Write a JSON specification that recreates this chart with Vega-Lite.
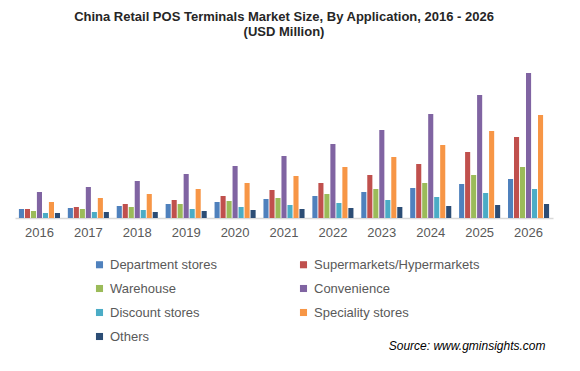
{
  "$schema": "https://vega.github.io/schema/vega-lite/v6.json",
  "width": 538,
  "height": 150,
  "autosize": {"type": "none"},
  "padding": {"left": 15, "top": 68, "right": 27, "bottom": 153},
  "background": "white",
  "config": {"font": "Liberation Sans", "view": {"stroke": null}},
  "title": {
    "text": ["China Retail POS Terminals Market Size, By Application, 2016 - 2026", "(USD Million)"],
    "fontSize": 13,
    "fontWeight": "bold",
    "color": "#262626",
    "anchor": "middle",
    "offset": 29,
    "lineHeight": 15
  },
  "data": {"values": [
    {"year": "2016", "cat": "Department stores", "v": 9},
    {"year": "2016", "cat": "Supermarkets/Hypermarkets", "v": 9},
    {"year": "2016", "cat": "Warehouse", "v": 7},
    {"year": "2016", "cat": "Convenience", "v": 26},
    {"year": "2016", "cat": "Discount stores", "v": 5},
    {"year": "2016", "cat": "Speciality stores", "v": 16},
    {"year": "2016", "cat": "Others", "v": 5},
    {"year": "2017", "cat": "Department stores", "v": 10},
    {"year": "2017", "cat": "Supermarkets/Hypermarkets", "v": 11},
    {"year": "2017", "cat": "Warehouse", "v": 9},
    {"year": "2017", "cat": "Convenience", "v": 31},
    {"year": "2017", "cat": "Discount stores", "v": 6},
    {"year": "2017", "cat": "Speciality stores", "v": 20},
    {"year": "2017", "cat": "Others", "v": 6},
    {"year": "2018", "cat": "Department stores", "v": 12},
    {"year": "2018", "cat": "Supermarkets/Hypermarkets", "v": 14},
    {"year": "2018", "cat": "Warehouse", "v": 11},
    {"year": "2018", "cat": "Convenience", "v": 37},
    {"year": "2018", "cat": "Discount stores", "v": 8},
    {"year": "2018", "cat": "Speciality stores", "v": 24},
    {"year": "2018", "cat": "Others", "v": 6},
    {"year": "2019", "cat": "Department stores", "v": 14},
    {"year": "2019", "cat": "Supermarkets/Hypermarkets", "v": 18},
    {"year": "2019", "cat": "Warehouse", "v": 14},
    {"year": "2019", "cat": "Convenience", "v": 44},
    {"year": "2019", "cat": "Discount stores", "v": 9},
    {"year": "2019", "cat": "Speciality stores", "v": 29},
    {"year": "2019", "cat": "Others", "v": 7},
    {"year": "2020", "cat": "Department stores", "v": 16},
    {"year": "2020", "cat": "Supermarkets/Hypermarkets", "v": 22},
    {"year": "2020", "cat": "Warehouse", "v": 17},
    {"year": "2020", "cat": "Convenience", "v": 52},
    {"year": "2020", "cat": "Discount stores", "v": 11},
    {"year": "2020", "cat": "Speciality stores", "v": 35},
    {"year": "2020", "cat": "Others", "v": 8},
    {"year": "2021", "cat": "Department stores", "v": 19},
    {"year": "2021", "cat": "Supermarkets/Hypermarkets", "v": 28},
    {"year": "2021", "cat": "Warehouse", "v": 20},
    {"year": "2021", "cat": "Convenience", "v": 62},
    {"year": "2021", "cat": "Discount stores", "v": 13},
    {"year": "2021", "cat": "Speciality stores", "v": 42},
    {"year": "2021", "cat": "Others", "v": 9},
    {"year": "2022", "cat": "Department stores", "v": 22},
    {"year": "2022", "cat": "Supermarkets/Hypermarkets", "v": 35},
    {"year": "2022", "cat": "Warehouse", "v": 24},
    {"year": "2022", "cat": "Convenience", "v": 74},
    {"year": "2022", "cat": "Discount stores", "v": 15},
    {"year": "2022", "cat": "Speciality stores", "v": 51},
    {"year": "2022", "cat": "Others", "v": 10},
    {"year": "2023", "cat": "Department stores", "v": 26},
    {"year": "2023", "cat": "Supermarkets/Hypermarkets", "v": 43},
    {"year": "2023", "cat": "Warehouse", "v": 29},
    {"year": "2023", "cat": "Convenience", "v": 88},
    {"year": "2023", "cat": "Discount stores", "v": 18},
    {"year": "2023", "cat": "Speciality stores", "v": 61},
    {"year": "2023", "cat": "Others", "v": 11},
    {"year": "2024", "cat": "Department stores", "v": 30},
    {"year": "2024", "cat": "Supermarkets/Hypermarkets", "v": 54},
    {"year": "2024", "cat": "Warehouse", "v": 35},
    {"year": "2024", "cat": "Convenience", "v": 104},
    {"year": "2024", "cat": "Discount stores", "v": 21},
    {"year": "2024", "cat": "Speciality stores", "v": 73},
    {"year": "2024", "cat": "Others", "v": 12},
    {"year": "2025", "cat": "Department stores", "v": 34},
    {"year": "2025", "cat": "Supermarkets/Hypermarkets", "v": 66},
    {"year": "2025", "cat": "Warehouse", "v": 43},
    {"year": "2025", "cat": "Convenience", "v": 123},
    {"year": "2025", "cat": "Discount stores", "v": 25},
    {"year": "2025", "cat": "Speciality stores", "v": 87},
    {"year": "2025", "cat": "Others", "v": 13},
    {"year": "2026", "cat": "Department stores", "v": 39},
    {"year": "2026", "cat": "Supermarkets/Hypermarkets", "v": 81},
    {"year": "2026", "cat": "Warehouse", "v": 51},
    {"year": "2026", "cat": "Convenience", "v": 145},
    {"year": "2026", "cat": "Discount stores", "v": 29},
    {"year": "2026", "cat": "Speciality stores", "v": 103},
    {"year": "2026", "cat": "Others", "v": 14}
  ]},
  "mark": {"type": "bar"},
  "encoding": {
    "x": {
      "field": "year", "type": "nominal",
      "scale": {"paddingInner": 0.16, "paddingOuter": 0.08},
      "axis": {
        "labelAngle": 0, "labelFontSize": 13, "labelColor": "#595959", "labelPadding": 8,
        "ticks": false, "domainColor": "#d9d9d9", "domainWidth": 1.5,
        "title": "Source: www.gminsights.com",
        "titleFontStyle": "italic", "titleFontWeight": "normal", "titleFontSize": 12,
        "titleColor": "#000000", "titleAnchor": "end", "titleAlign": "right",
        "titleX": 530, "titleY": 131, "titleBaseline": "alphabetic"
      }
    },
    "xOffset": {
      "field": "cat", "type": "nominal",
      "scale": {"domain": ["Department stores", "Supermarkets/Hypermarkets", "Warehouse", "Convenience", "Discount stores", "Speciality stores", "Others"], "paddingInner": 0.15}
    },
    "y": {
      "field": "v", "type": "quantitative",
      "scale": {"domain": [0, 150], "nice": false},
      "axis": null
    },
    "color": {
      "field": "cat", "type": "nominal",
      "scale": {
        "domain": ["Department stores", "Supermarkets/Hypermarkets", "Warehouse", "Convenience", "Discount stores", "Speciality stores", "Others"],
        "range": ["#4f81bd", "#c0504d", "#9bbb59", "#8064a2", "#4bacc6", "#f79646", "#2c4d75"]
      },
      "legend": {
        "title": null, "orient": "none", "legendX": 78, "legendY": 190,
        "direction": "horizontal",
        "columns": 2, "columnPadding": 80, "rowPadding": 10,
        "symbolType": "square", "symbolSize": 50, "symbolStrokeWidth": 0,
        "labelFontSize": 13, "labelColor": "#595959", "labelOffset": 4, "padding": 0, "labelLimit": 300
      }
    }
  }
}
